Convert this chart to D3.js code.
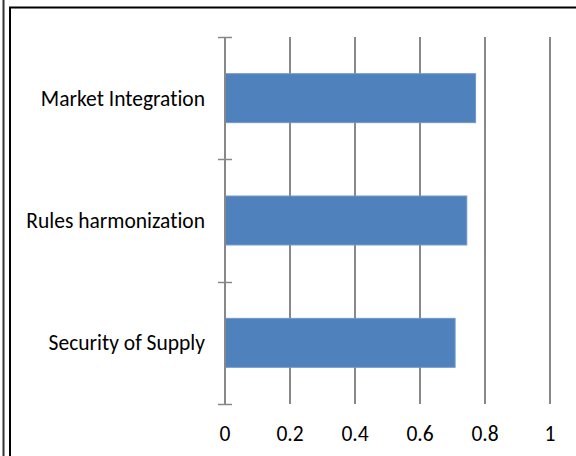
<!DOCTYPE html>
<html>
<head>
<meta charset="utf-8">
<script src="https://cdn.jsdelivr.net/npm/d3@7"></script>
<style>
  html, body { margin: 0; padding: 0; background: #fff; }
  svg { display: block; }
  text { font-family: Carlito, Calibri, Lato, "Open Sans", sans-serif; fill: #000; font-variant-ligatures: none; }
</style>
</head>
<body>
<svg id="chart" width="576" height="456"></svg>
<script>
// Categories listed top to bottom, with their scores
const categories = ["Market Integration", "Rules harmonization", "Security of Supply"];
const values = [0.771, 0.744, 0.708];
const xTicks = [0, 0.2, 0.4, 0.6, 0.8, 1];

const svg = d3.select("#chart");
const W = 576, H = 456;

// Outer frame: thin outer line plus heavier inner line on the left, heavy top edge
svg.append("line").attr("x1", 3.5).attr("x2", 3.5).attr("y1", 0).attr("y2", H)
  .attr("stroke", "#333").attr("stroke-width", 2);
svg.append("line").attr("x1", 10).attr("x2", 10).attr("y1", 7).attr("y2", H)
  .attr("stroke", "#000").attr("stroke-width", 2);
svg.append("line").attr("x1", 9).attr("x2", W).attr("y1", 7.5).attr("y2", 7.5)
  .attr("stroke", "#000").attr("stroke-width", 2);

const plot = { left: 225, right: 550, top: 37, bottom: 404 };

const x = d3.scaleLinear().domain([0, 1]).range([plot.left, plot.right]);
const y = d3.scaleBand().domain(categories).range([plot.top, plot.bottom])
  .paddingInner(0.6).paddingOuter(0.3);
const yEdges = d3.scaleLinear().domain([0, categories.length]).range([plot.top, plot.bottom]);

const gridColor = "#888888";

// Vertical gridlines
svg.append("g").selectAll("line").data(xTicks.filter(d => d > 0)).join("line")
  .attr("x1", d => x(d)).attr("x2", d => x(d))
  .attr("y1", plot.top).attr("y2", plot.bottom)
  .attr("stroke", gridColor).attr("stroke-width", 2);

// Bars
svg.append("g").selectAll("rect").data(categories).join("rect")
  .attr("x", x(0))
  .attr("y", d => y(d))
  .attr("width", (d, i) => x(values[i]) - x(0))
  .attr("height", y.bandwidth())
  .attr("fill", "#4f81bd")
  .attr("stroke", "#6f97cb").attr("stroke-width", 1);

// Category axis with crossing tick marks at band boundaries
svg.append("line").attr("x1", x(0)).attr("x2", x(0))
  .attr("y1", plot.top).attr("y2", plot.bottom)
  .attr("stroke", gridColor).attr("stroke-width", 2);
svg.append("g").selectAll("line").data(d3.range(categories.length + 1)).join("line")
  .attr("x1", x(0) - 7).attr("x2", x(0) + 7)
  .attr("y1", d => Math.round(yEdges(d)) + 0.5).attr("y2", d => Math.round(yEdges(d)) + 0.5)
  .attr("stroke", gridColor).attr("stroke-width", 1.5);

// Category labels
svg.append("g").selectAll("text").data(categories).join("text")
  .attr("x", 205)
  .attr("y", d => y(d) + y.bandwidth() / 2)
  .attr("dy", "0.35em")
  .attr("text-anchor", "end")
  .attr("font-size", 21.5)
  .text(d => d);

// Value axis labels
svg.append("g").selectAll("text").data(xTicks).join("text")
  .attr("x", d => x(d))
  .attr("y", 433)
  .attr("dy", "0.35em")
  .attr("text-anchor", "middle")
  .attr("font-size", 21.5)
  .text(d => d3.format("~g")(d));
</script>
</body>
</html>
